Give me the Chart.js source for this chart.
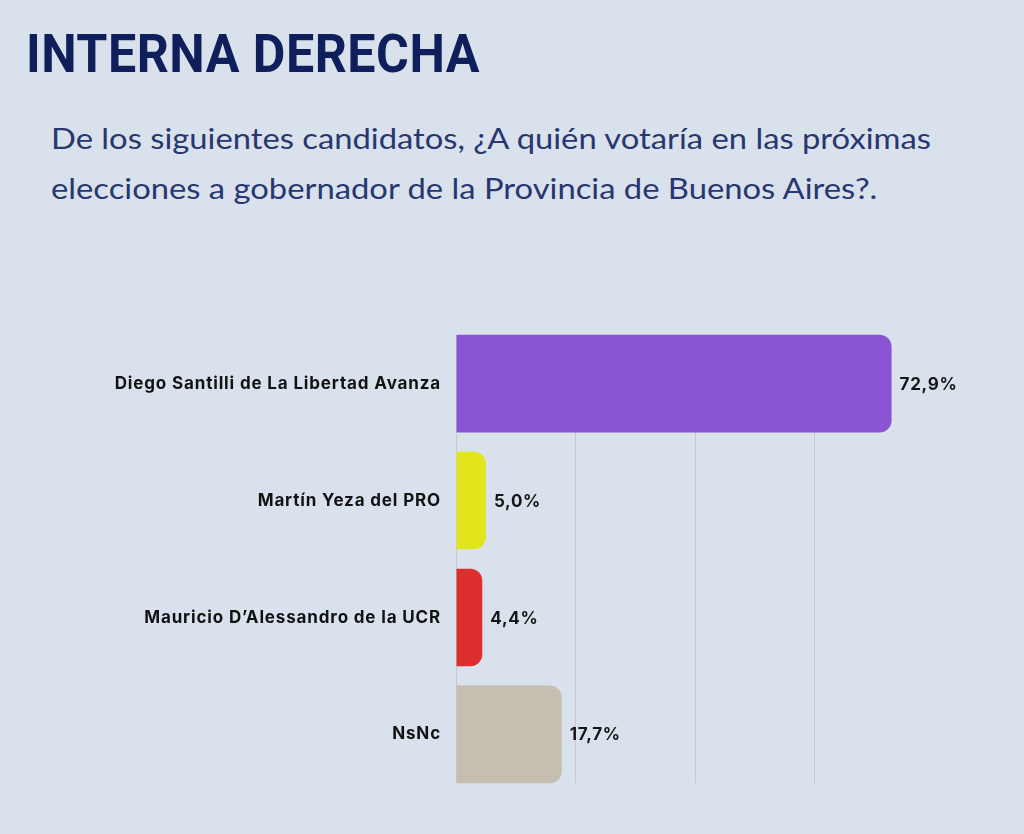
<!DOCTYPE html>
<html>
<head>
<meta charset="utf-8">
<script src="https://cdn.jsdelivr.net/npm/chart.js@4"></script>
<style>
  html, body { margin:0; padding:0; }
  body { width:1024px; height:834px; background:#d9e2ec; position:relative; overflow:hidden; }
  #title { position:absolute; left:26px; top:28px; margin:0; font-family:"Roboto", sans-serif; font-weight:700;
           font-size:53px; line-height:1; color:#0f1f5c; white-space:nowrap; transform-origin:0 0; letter-spacing:0.5px; }
  .sub { position:absolute; left:51px; margin:0; font-family:"Lato", sans-serif; font-weight:400; font-size:29px;
         line-height:1; color:#28376f; white-space:nowrap; transform-origin:0 0; }
  #sub1 { top:123px; }
  #sub2 { top:173px; }
  #wrap { position:absolute; left:0; top:300px; width:1024px; height:518px; }
</style>
</head>
<body>
<h1 id="title">INTERNA DERECHA</h1>
<p class="sub" id="sub1">De los siguientes candidatos, ¿A quién votaría en las próximas</p>
<p class="sub" id="sub2">elecciones a gobernador de la Provincia de Buenos Aires?.</p>
<div id="wrap"><canvas id="c"></canvas></div>
<script>
const categories = ["Diego Santilli de La Libertad Avanza", "Martín Yeza del PRO", "Mauricio D’Alessandro de la UCR", "NsNc"];
const values = [72.9, 5.0, 4.4, 17.7];
const valueLabels = ["72,9%", "5,0%", "4,4%", "17,7%"];
const barColors = ["#8955d5", "#e2e41c", "#dd2f30", "#c6beb0"];
const xTicks = [0, 20, 40, 60];
const BG = "#d9e2ec";

function scaleToWidth(id, w) {
  const el = document.getElementById(id);
  const r = el.getBoundingClientRect().width;
  const s = w / r;
  el.style.transform = "scaleX(" + s + ")";
  return s;
}
scaleToWidth("title", 454);
const s1 = scaleToWidth("sub1", 880);
document.getElementById("sub2").style.transform = "scaleX(" + s1 + ")";

const spacingPlugin = {
  id: "letterSpacing",
  beforeDraw(chart) { chart.ctx.letterSpacing = "0.85px"; }
};

// grid lines only span from the first bar's bottom to the last bar's bottom, as in the source
const gridTrimPlugin = {
  id: "gridTrim",
  beforeDatasetsDraw(chart) {
    const ctx = chart.ctx;
    const meta = chart.getDatasetMeta(0);
    const a = chart.chartArea;
    const first = meta.data[0], last = meta.data[meta.data.length - 1];
    const h0 = first.height, hN = last.height;
    ctx.save();
    ctx.fillStyle = BG;
    ctx.fillRect(a.left - 2, a.top - 2, a.right - a.left + 4, (first.y - h0 / 2) - a.top + 2);
    ctx.fillRect(a.left - 2, last.y + hN / 2, a.right - a.left + 4, a.bottom - (last.y + hN / 2) + 2);
    ctx.restore();
  }
};

const valuePlugin = {
  id: "valueLabels",
  afterDatasetsDraw(chart) {
    const ctx = chart.ctx;
    const meta = chart.getDatasetMeta(0);
    ctx.save();
    ctx.letterSpacing = "0.7px";
    ctx.font = "700 17px Inter, sans-serif";
    ctx.fillStyle = "#151515";
    ctx.textAlign = "left";
    ctx.textBaseline = "middle";
    meta.data.forEach((bar, i) => {
      ctx.fillText(valueLabels[i], bar.x + 8, bar.y + 1);
    });
    ctx.restore();
  }
};

new Chart(document.getElementById("c"), {
  type: "bar",
  data: {
    labels: categories,
    datasets: [{
      data: values,
      backgroundColor: barColors,
      borderRadius: { topLeft: 0, bottomLeft: 0, topRight: 12, bottomRight: 12 },
      borderSkipped: false,
      barPercentage: 0.835,
      categoryPercentage: 1.0
    }]
  },
  options: {
    indexAxis: "y",
    responsive: true,
    maintainAspectRatio: false,
    animation: false,
    layout: { padding: { top: 14, bottom: 10, right: 90, left: 0 } },
    plugins: { legend: { display: false }, tooltip: { enabled: false } },
    scales: {
      x: {
        min: 0, max: 80,
        afterBuildTicks(scale) { scale.ticks = xTicks.map(v => ({ value: v })); },
        afterFit(scale) { scale.height = 0; },
        ticks: { display: false },
        grid: { color: "rgba(196,188,180,0.7)", lineWidth: 1, drawTicks: false },
        border: { display: false }
      },
      y: {
        afterFit(scale) { scale.width = 456; },
        ticks: { color: "#111", font: { family: "Inter", weight: "700", size: 17 }, padding: 15 },
        grid: { display: false, drawTicks: false },
        border: { display: false }
      }
    }
  },
  plugins: [spacingPlugin, gridTrimPlugin, valuePlugin]
});
</script>
</body>
</html>
